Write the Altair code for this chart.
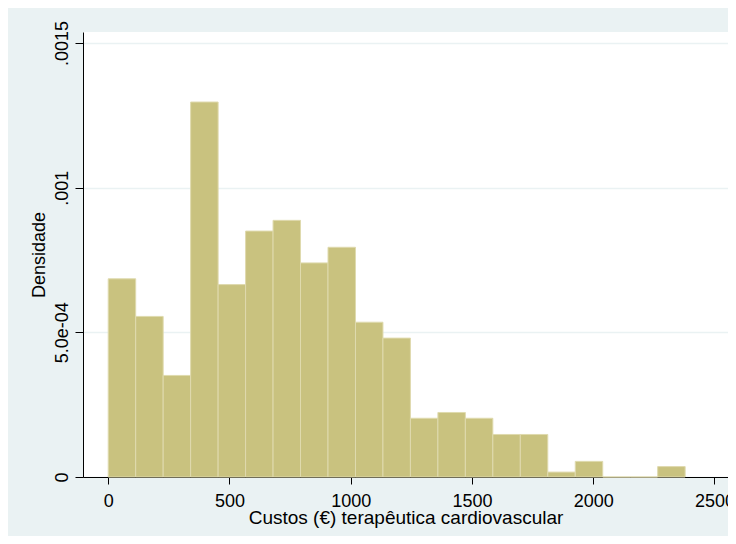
import altair as alt
import pandas as pd

# Histogram bins (cost in EUR) and density values
bin_start = [0, 113.3, 226.6, 339.9, 453.2, 566.5, 679.8, 793.1, 906.4, 1019.7,
             1133.0, 1246.3, 1359.6, 1472.9, 1586.2, 1699.5, 1812.8, 1926.1,
             2039.4, 2152.7, 2266.0]
bin_end = [113.3, 226.6, 339.9, 453.2, 566.5, 679.8, 793.1, 906.4, 1019.7,
           1133.0, 1246.3, 1359.6, 1472.9, 1586.2, 1699.5, 1812.8, 1926.1,
           2039.4, 2152.7, 2266.0, 2379.3]
density = [6.85e-4, 5.55e-4, 3.51e-4, 1.296e-3, 6.65e-4, 8.50e-4, 8.87e-4,
           7.40e-4, 7.94e-4, 5.35e-4, 4.80e-4, 2.03e-4, 2.23e-4, 2.03e-4,
           1.47e-4, 1.47e-4, 0.17e-4, 0.54e-4, 0.0, 0.0, 0.36e-4]

x_ticks = [0, 500, 1000, 1500, 2000, 2500]
y_ticks = [0, 0.0005, 0.001, 0.0015]
y_tick_labels = ["0", "5.0e-04", ".001", ".0015"]

x_title = "Custos (€) terapêutica cardiovascular"
y_title = "Densidade"

df = pd.DataFrame({"start": bin_start, "end": bin_end, "density": density})

# label expression built from the tick lists
expr = "''"
for v, lab in reversed(list(zip(y_ticks, y_tick_labels))):
    expr = f"(abs(datum.value - {v}) < 1e-7 ? '{lab}' : {expr})"

BG = "#EAF2F3"
FONT = "Liberation Sans"
W, H = 645, 445

chart = (
    alt.Chart(df)
    .mark_rect(color="#C9C27F", stroke="#DFDAAE", strokeWidth=1)
    .encode(
        x=alt.X(
            "start:Q",
            scale=alt.Scale(domain=[-104, 2556], nice=False, zero=False),
            axis=alt.Axis(
                values=x_ticks,
                title=x_title,
                grid=False,
                format="d",
                domainColor="black",
                domainWidth=1,
                tickColor="black",
                tickSize=7,
                tickWidth=1,
                labelFont=FONT,
                labelFontSize=18,
                labelColor="black",
                labelPadding=8,
                labelFlush=False,
                labelOverlap=False,
                titleFont=FONT,
                titleFontSize=19,
                titleFontWeight="normal",
                titleColor="black",
                titleBaseline="alphabetic",
                titleX=W / 2,
                titleY=46,
            ),
        ),
        x2="end:Q",
        y=alt.Y(
            "density:Q",
            scale=alt.Scale(domain=[0, 0.001538], nice=False),
            axis=alt.Axis(
                values=y_ticks,
                labelExpr=expr,
                title=y_title,
                grid=True,
                gridColor=BG,
                gridWidth=1.5,
                domainColor="black",
                domainWidth=1,
                tickColor="black",
                tickSize=8,
                tickWidth=1,
                labelAngle=-90,
                labelAlign="center",
                labelBaseline="alphabetic",
                labelPadding=8,
                labelFont=FONT,
                labelFontSize=18,
                labelColor="black",
                labelFlush=False,
                labelOverlap=False,
                titleFont=FONT,
                titleFontSize=18,
                titleFontWeight="normal",
                titleColor="black",
                titleAngle=-90,
                titleAlign="center",
                titleBaseline="alphabetic",
                titleX=-39,
                titleY=H / 2,
            ),
        ),
        y2=alt.datum(0),
    )
    .properties(
        width=W,
        height=H,
        autosize=alt.AutoSizeParams(type="none"),
        padding={"left": 75, "top": 24, "right": 0, "bottom": 59},
    )
    .configure(background=BG)
    .configure_view(fill="white", stroke=None)
)

chart.save("out.html", embed_options={"renderer": "svg", "actions": False})
